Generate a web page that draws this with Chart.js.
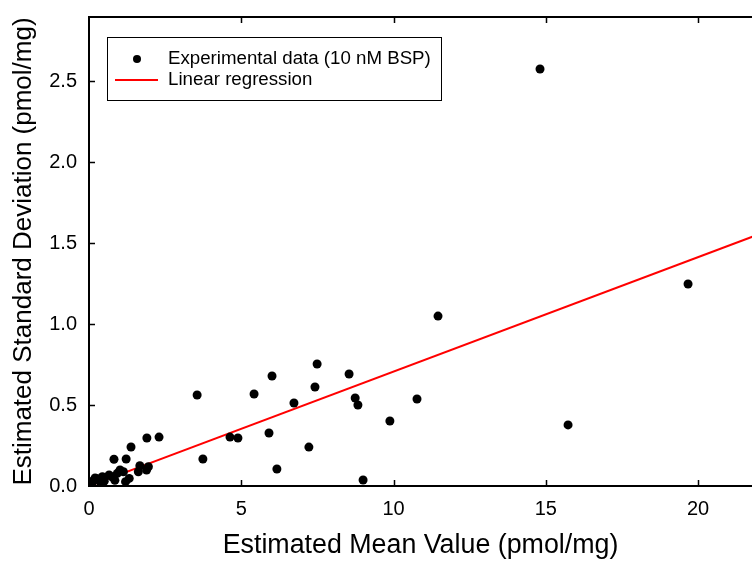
<!DOCTYPE html>
<html>
<head>
<meta charset="utf-8">
<script src="https://cdn.jsdelivr.net/npm/chart.js@4"></script>
<style>
html, body { margin: 0; padding: 0; background: #fff; }
#wrap { width: 752px; height: 563px; position: relative; }
</style>
</head>
<body>
<div id="wrap"><canvas id="chart"></canvas></div>
<script>
// data
const meanValues = [0.03, 0.06, 0.1, 0.15, 0.2, 0.27, 0.35, 0.44, 0.5, 0.66, 0.75, 0.82, 0.85, 0.93, 1.02, 1.13, 1.2, 1.22, 1.32, 1.38, 1.62, 1.67, 1.89, 1.95, 1.9, 2.3,
    3.55, 3.74, 4.63, 4.89, 5.42, 5.91, 6.01, 6.17, 6.73, 7.22, 7.42, 7.49, 8.54, 8.74, 8.83, 9.0, 9.88, 10.77, 11.46, 14.81, 15.73, 19.67];
const sdValues = [0.01, 0.005, 0.02, 0.035, 0.05, 0.045, 0.03, 0.057, 0.03, 0.068, 0.057, 0.165, 0.035, 0.078, 0.099, 0.088, 0.027, 0.167, 0.047, 0.241, 0.088, 0.125, 0.099, 0.119, 0.296, 0.302,
    0.562, 0.167, 0.302, 0.296, 0.568, 0.327, 0.679, 0.105, 0.512, 0.24, 0.611, 0.753, 0.691, 0.543, 0.5, 0.037, 0.401, 0.537, 1.049, 2.574, 0.377, 1.247];
const regX = [0, 21.8];
const regY = [0, 1.54];
const xTicks = [0, 5, 10, 15, 20];
const yTicks = [0, 0.5, 1.0, 1.5, 2.0, 2.5];
const xRange = [0, 21.77];
const yRange = [0, 2.895];

const FONT = '"Liberation Sans", Arial, Helvetica, sans-serif';

// box frame, inward ticks and the legend box
const framePlugin = {
    id: 'frame',
    afterDraw(chart) {
        const c = chart.ctx;
        const a = chart.chartArea;
        const xs = chart.scales.x, ys = chart.scales.y;
        c.save();
        c.strokeStyle = '#000';
        c.lineWidth = 2;
        c.beginPath();
        c.moveTo(a.left - 1, a.top);
        c.lineTo(a.right + 2, a.top);
        c.stroke();

        c.lineWidth = 1.5;
        c.beginPath();
        xTicks.forEach(v => {
            const px = Math.round(xs.getPixelForValue(v)) + 0.5;
            if (v === 0) return;
            c.moveTo(px, a.bottom); c.lineTo(px, a.bottom - 6);
            c.moveTo(px, a.top); c.lineTo(px, a.top + 6);
        });
        yTicks.forEach(v => {
            const py = Math.round(ys.getPixelForValue(v)) + 0.5;
            if (v === 0) return;
            c.moveTo(a.left, py); c.lineTo(a.left + 6, py);
        });
        c.stroke();

        // legend
        const bx = 107, by = 37, bw = 334, bh = 63;
        c.fillStyle = '#fff';
        c.fillRect(bx, by, bw, bh);
        c.lineWidth = 1;
        c.strokeRect(bx + 0.5, by + 0.5, bw, bh);
        const ds = chart.data.datasets;
        c.font = '18.7px ' + FONT;
        c.textBaseline = 'middle';
        c.fillStyle = '#000';
        c.beginPath();
        c.arc(137, 59, 4, 0, Math.PI * 2);
        c.fill();
        c.fillText(ds[0].label, 168, 59);
        c.strokeStyle = ds[1].borderColor;
        c.lineWidth = 2;
        c.beginPath();
        c.moveTo(115, 80); c.lineTo(158, 80);
        c.stroke();
        c.fillText(ds[1].label, 168, 80);
        c.restore();
    }
};

new Chart(document.getElementById('chart'), {
    type: 'scatter',
    data: {
        datasets: [
            {
                label: 'Experimental data (10 nM BSP)',
                data: meanValues.map((x, i) => ({ x: x, y: sdValues[i] })),
                backgroundColor: '#000',
                borderColor: '#000',
                pointRadius: 4.5,
                pointBorderWidth: 0
            },
            {
                type: 'line',
                label: 'Linear regression',
                data: regX.map((x, i) => ({ x: x, y: regY[i] })),
                borderColor: '#ff0000',
                borderWidth: 2,
                pointRadius: 0,
                fill: false
            }
        ]
    },
    options: {
        responsive: true,
        maintainAspectRatio: false,
        animation: false,
        layout: { autoPadding: false, padding: { top: 17, right: 0, left: 0, bottom: 0 } },
        plugins: {
            legend: { display: false },
            tooltip: { enabled: false }
        },
        scales: {
            x: {
                type: 'linear',
                min: xRange[0],
                max: xRange[1],
                afterBuildTicks: s => { s.ticks = xTicks.map(v => ({ value: v })); },
                afterFit: s => { s.height = 77; s.paddingLeft = 0; s.paddingRight = 0; },
                grid: { display: false, drawTicks: false },
                border: { display: true, color: '#000', width: 2 },
                ticks: { color: '#000', padding: 11, maxRotation: 0, font: { family: FONT, size: 20 } },
                title: {
                    display: true,
                    text: 'Estimated Mean Value (pmol/mg)',
                    color: '#000',
                    font: { family: FONT, size: 26.8 },
                    padding: { top: 0, bottom: 1 }
                }
            },
            y: {
                type: 'linear',
                min: yRange[0],
                max: yRange[1],
                afterBuildTicks: s => { s.ticks = yTicks.map(v => ({ value: v })); },
                afterFit: s => { s.width = 89; s.paddingTop = 0; s.paddingBottom = 0; },
                grid: { display: false, drawTicks: false },
                border: { display: true, color: '#000', width: 2 },
                ticks: {
                    color: '#000', padding: 12, font: { family: FONT, size: 20 },
                    callback: v => Number(v).toFixed(1)
                },
                title: {
                    display: true,
                    text: 'Estimated Standard Deviation (pmol/mg)',
                    color: '#000',
                    font: { family: FONT, size: 26 },
                    padding: { top: 8, bottom: 0 }
                }
            }
        }
    },
    plugins: [framePlugin]
});
</script>
</body>
</html>
